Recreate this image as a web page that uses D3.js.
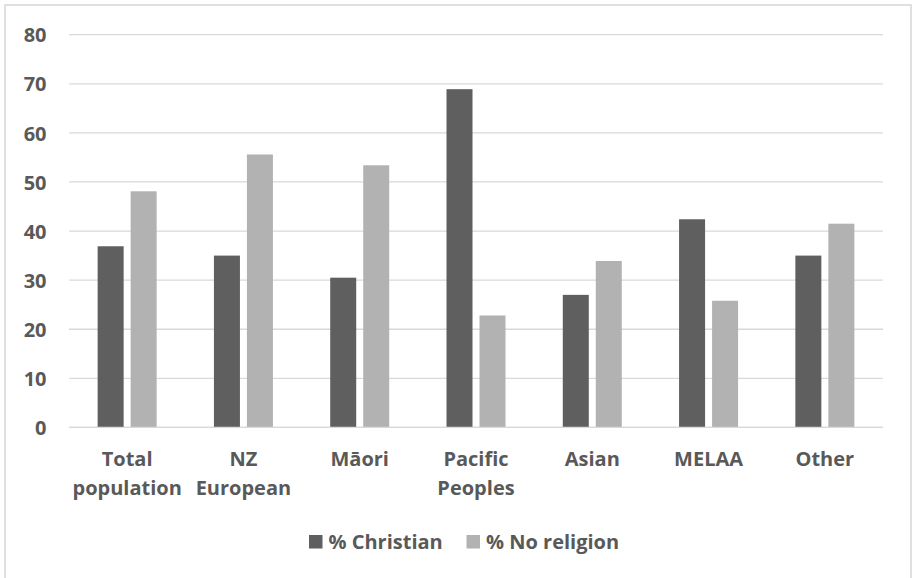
<!DOCTYPE html>
<html>
<head>
<meta charset="utf-8">
<script src="https://cdn.jsdelivr.net/npm/d3@7"></script>
<style>
  html, body { margin: 0; padding: 0; background: #fff; }
  svg { display: block; }
  text { font-family: "Open Sans", "DejaVu Sans", sans-serif; font-weight: 700; fill: #595959; }
</style>
</head>
<body>
<svg id="chart" width="914" height="578"></svg>
<script>
const categories = [["Total", "population"], ["NZ", "European"], ["Māori"], ["Pacific", "Peoples"], ["Asian"], ["MELAA"], ["Other"]];
const seriesNames = ["% Christian", "% No religion"];
const christian = [36.9, 35.0, 30.5, 68.9, 27.0, 42.4, 35.0];
const noReligion = [48.1, 55.6, 53.4, 22.8, 33.9, 25.8, 41.5];
const yTicks = [0, 10, 20, 30, 40, 50, 60, 70, 80];
const colors = ["#5f5f5f", "#b2b2b2"];

const svg = d3.select("#chart");
const W = 914, H = 578;

// chart border
svg.append("rect")
  .attr("x", 5).attr("y", 5)
  .attr("width", 906).attr("height", 590)
  .attr("fill", "#fff")
  .attr("stroke", "#d9d9d9").attr("stroke-width", 1.6);

const plot = { left: 69, right: 883, top: 34.7, bottom: 427.4 };
const catKeys = categories.map(c => c.join(" "));

const x0 = d3.scaleBand().domain(catKeys).range([plot.left, plot.right]).paddingInner(0).paddingOuter(0);
const x1 = d3.scaleBand().domain(seriesNames).range([0, x0.bandwidth()]).paddingInner(0.212).paddingOuter(0.868);
const y = d3.scaleLinear().domain([0, 80]).range([plot.bottom, plot.top]);

// gridlines
svg.append("g").selectAll("line").data(yTicks).join("line")
  .attr("x1", plot.left).attr("x2", plot.right)
  .attr("y1", d => y(d)).attr("y2", d => y(d))
  .attr("stroke", "#d9d9d9").attr("stroke-width", 1.3);

// y tick labels via axis
const yAxis = d3.axisLeft(y).tickValues(yTicks).tickSize(0).tickPadding(0).tickFormat(d3.format("d"));
const yg = svg.append("g").attr("transform", `translate(46.5,0)`).call(yAxis);
yg.select(".domain").remove();
yg.selectAll("text").attr("font-size", 20).attr("fill", "#595959")
  .attr("font-family", "'Open Sans', sans-serif").attr("font-weight", 700).attr("dy", "0.36em");

// bars
const rows = catKeys.map((k, i) => ({ key: k, vals: [christian[i], noReligion[i]] }));
const groups = svg.append("g").selectAll("g").data(rows).join("g")
  .attr("transform", d => `translate(${x0(d.key)},0)`);
groups.selectAll("rect").data(d => d.vals.map((v, j) => ({ s: seriesNames[j], v, j })))
  .join("rect")
  .attr("x", d => x1(d.s))
  .attr("width", x1.bandwidth())
  .attr("y", d => y(d.v))
  .attr("height", d => y(0) - y(d.v))
  .attr("fill", d => colors[d.j]);

// baseline redraw on top
svg.append("line").attr("x1", plot.left).attr("x2", plot.right)
  .attr("y1", y(0)).attr("y2", y(0)).attr("stroke", "#d9d9d9").attr("stroke-width", 1.3);

// category labels
const cl = svg.append("g").selectAll("text").data(categories).join("text")
  .attr("text-anchor", "middle")
  .attr("font-size", 20)
  .attr("x", (d, i) => x0(catKeys[i]) + x0.bandwidth() / 2)
  .attr("y", 466);
cl.selectAll("tspan").data(d => d).join("tspan")
  .attr("x", function() { return d3.select(this.parentNode).attr("x"); })
  .attr("dy", (d, i) => i === 0 ? 0 : 29)
  .text(d => d);

// legend
const legendItems = [
  { name: seriesNames[0], color: colors[0], sx: 309, tx: 328.5 },
  { name: seriesNames[1], color: colors[1], sx: 466.5, tx: 486 }
];
const lg = svg.append("g");
legendItems.forEach(it => {
  lg.append("rect").attr("x", it.sx).attr("y", 535).attr("width", 13.5).attr("height", 13.5).attr("fill", it.color);
  lg.append("text").attr("x", it.tx).attr("y", 549).attr("font-size", 20).text(it.name);
});
</script>
</body>
</html>
